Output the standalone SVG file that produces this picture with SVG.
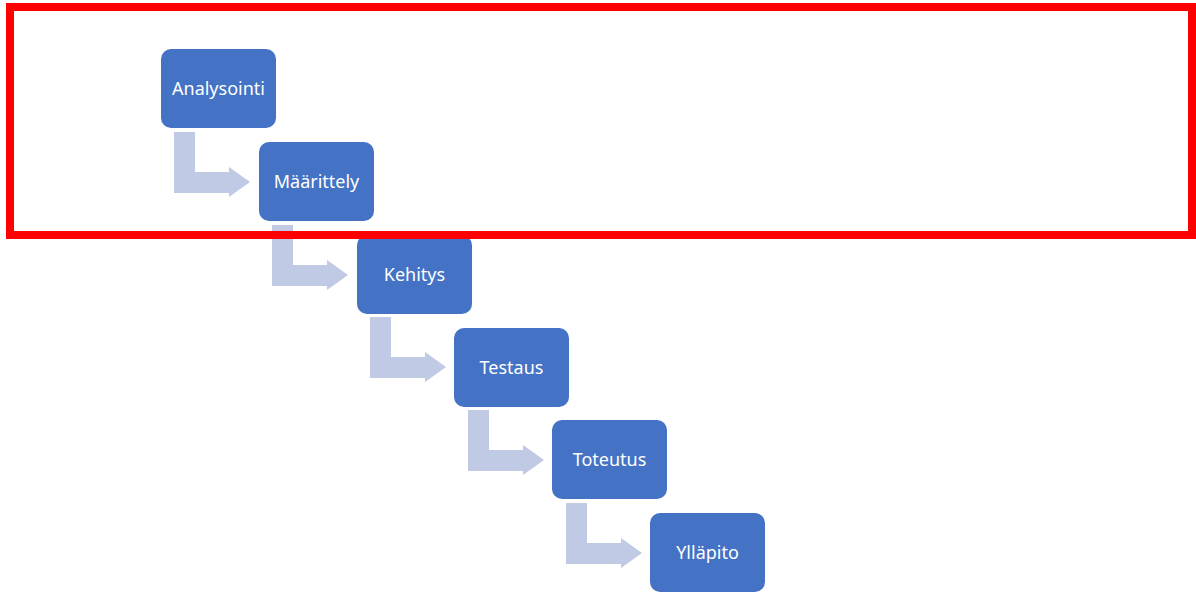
<svg xmlns="http://www.w3.org/2000/svg" width="1196" height="592" viewBox="0 0 1196 592">
<style>
.node rect{fill:#4472C4;}
.node text{fill:#FFFFFF;font-family:"Noto Sans","Open Sans",sans-serif;font-size:18px;text-anchor:middle;}
.conn path{fill:#C1CAE4;}
</style>
<rect width="1196" height="592" fill="#FFFFFF"/>
<g id="connectors" class="conn">
<path d="M174,132 H195 V172 H229 V167 L250,182 L229,197 V193 H174 Z"/>
<path d="M272,225 H293 V265 H327 V260 L348,275 L327,290 V286 H272 Z"/>
<path d="M370,317 H391 V357 H425 V352 L446,367 L425,382 V378 H370 Z"/>
<path d="M468,410 H489 V450 H523 V445 L544,460 L523,475 V471 H468 Z"/>
<path d="M566,503 H587 V543 H621 V538 L642,553 L621,568 V564 H566 Z"/>
</g>
<g id="node-analysointi" class="node"><rect x="161" y="49" width="115" height="79" rx="10"/><text x="218.5" y="95">Analysointi</text></g>
<g id="node-maarittely" class="node"><rect x="259" y="142" width="115" height="79" rx="10"/><text x="316.5" y="188">Määrittely</text></g>
<g id="node-kehitys" class="node"><rect x="357" y="235" width="115" height="79" rx="10"/><text x="414.5" y="281">Kehitys</text></g>
<g id="node-testaus" class="node"><rect x="454" y="328" width="115" height="79" rx="10"/><text x="511.5" y="374">Testaus</text></g>
<g id="node-toteutus" class="node"><rect x="552" y="420" width="115" height="79" rx="10"/><text x="609.5" y="466">Toteutus</text></g>
<g id="node-yllapito" class="node"><rect x="650" y="513" width="115" height="79" rx="10"/><text x="707.5" y="559">Ylläpito</text></g>
<rect id="highlight" x="10" y="7" width="1182" height="228" fill="none" stroke="#FF0000" stroke-width="8"/>
</svg>
